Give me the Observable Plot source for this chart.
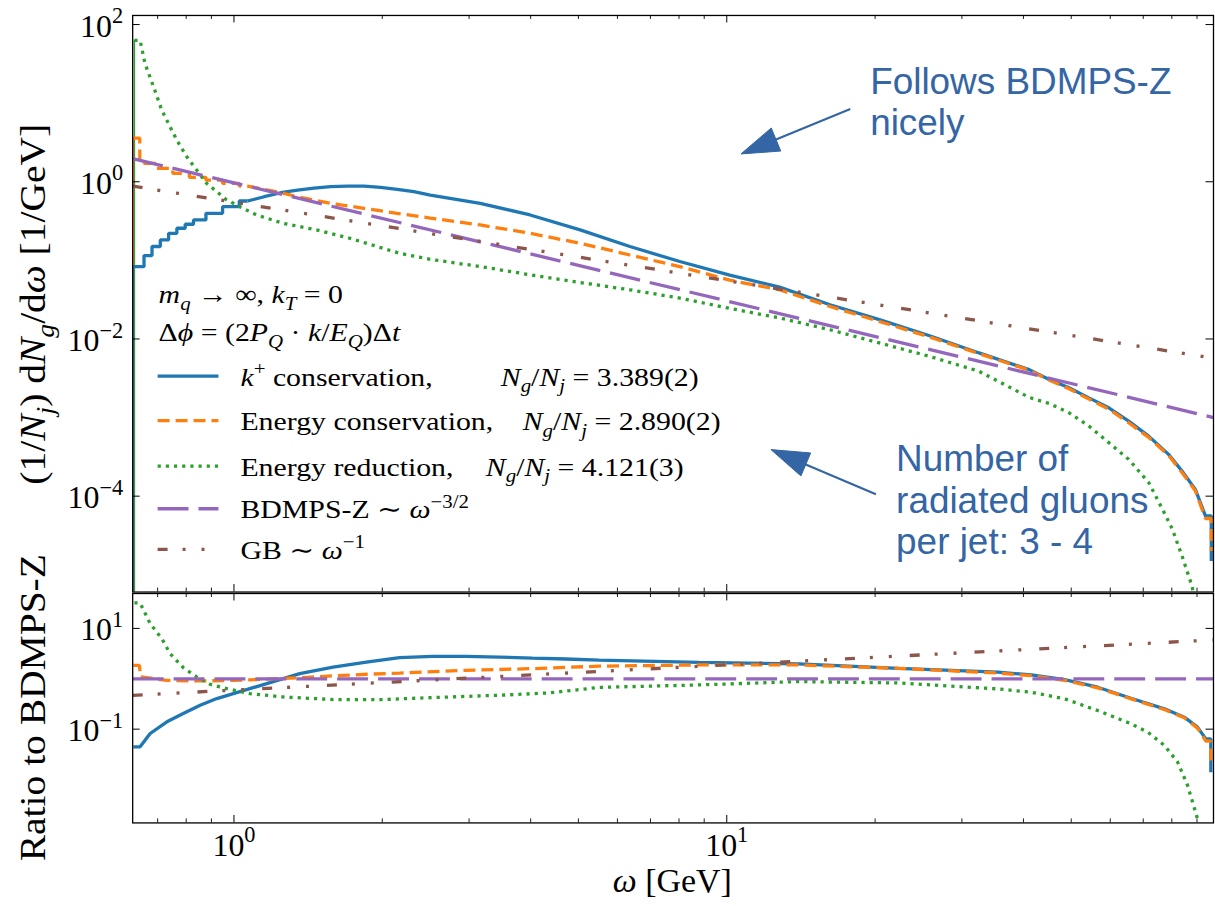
<!DOCTYPE html>
<html><head><meta charset="utf-8">
<script src="https://cdn.jsdelivr.net/npm/d3@7"></script>
<script src="https://cdn.jsdelivr.net/npm/@observablehq/plot@0.6"></script>
<style>
html,body{margin:0;padding:0;background:#fff;overflow:hidden;}
#wrap{position:relative;width:1215px;height:906px;overflow:hidden;background:#fff;}
#top,#bot{position:absolute;left:0;}
#top{top:0;}
#bot{top:592px;}
svg{overflow:visible;}
</style></head><body><div id="wrap"><div id="bot"></div><div id="top"></div></div>
<script>
// ---------------- data ----------------
const xDomain = [0.623, 97.2];
const yTopDomain = [6.03e-6, 130.5];
const yBotDomain = [1.377e-3, 49.3];

const xMajor = [1, 10];
const xMinor = [0.7, 0.8, 0.9, 2, 3, 4, 5, 6, 7, 8, 9, 20, 30, 40, 50, 60, 70, 80, 90];
const xTickLabels = ["10^0", "10^1"];
const yTopMajor = [1e2, 1, 1e-2, 1e-4];
const yTopLabels = ["10^2", "10^0", "10^\u22122", "10^\u22124"];
const yBotMajor = [10, 0.1];
const yBotLabels = ["10^1", "10^\u22121"];

// top panel: (1/N_j) dN_g/dω  [ω, value]
const kplusTop = [[0.625,0.083],[0.645,0.083],[0.669,0.115],[0.695,0.150],[0.723,0.182],[0.751,0.221],[0.781,0.256],[0.812,0.288],[0.844,0.327],[0.912,0.397],[0.986,0.482],[1.066,0.569],[1.152,0.645],[1.245,0.725],[1.346,0.785],[1.454,0.832],[1.571,0.865],[1.699,0.882],[1.836,0.882],[1.984,0.849],[2.144,0.801],[2.317,0.747],[2.504,0.678],[3.16,0.532],[3.99,0.378],[5.04,0.244],[6.36,0.150],[8.03,0.0966],[10.14,0.0650],[12.8,0.0457],[16.2,0.0272],[20.4,0.0176],[25.8,0.0110],[32.5,0.00664],[41.1,0.00407],[45.1,0.00305],[49.5,0.00239],[54.3,0.00178],[59.6,0.00133],[65.4,0.00090],[71.8,0.00058],[78.8,0.00034],[83.9,0.000209],[89.3,0.000122],[93.6,0.000056],[96.2,0.000056],[96.2,0.000015]];
const energyConsTop = [[0.625,3.6],[0.643,3.6],[0.645,1.88],[0.669,1.71],[0.723,1.48],[0.781,1.28],[0.844,1.14],[0.912,1.05],[0.986,0.955],[1.066,0.882],[1.152,0.80],[1.245,0.725],[1.346,0.645],[1.454,0.586],[1.571,0.532],[1.836,0.459],[2.144,0.397],[2.504,0.345],[3.16,0.282],[3.99,0.221],[5.04,0.165],[6.36,0.117],[8.03,0.0834],[10.14,0.0560],[12.8,0.0422],[16.2,0.0259],[20.4,0.0167],[25.8,0.0106],[32.5,0.0065],[41.1,0.0040],[45.1,0.0030],[49.5,0.00232],[54.3,0.00172],[59.6,0.00128],[65.4,0.00086],[71.8,0.00056],[78.8,0.00033],[83.9,0.000200],[89.3,0.000117],[93.6,0.000052],[96.2,0.000052],[96.2,0.000020]];
const energyRedTop = [[0.628,63],[0.645,63],[0.660,31.8],[0.687,16.1],[0.714,8.1],[0.742,4.99],[0.766,3.38],[0.802,2.08],[0.840,1.41],[0.880,0.955],[0.923,0.747],[0.967,0.586],[1.028,0.482],[1.111,0.378],[1.258,0.296],[1.470,0.244],[1.718,0.191],[2.168,0.123],[2.504,0.103],[3.16,0.0834],[3.99,0.0655],[5.04,0.0523],[6.36,0.0422],[8.03,0.0331],[10.14,0.0245],[12.8,0.0185],[16.2,0.0131],[20.4,0.0089],[25.8,0.0060],[32.5,0.00388],[41.1,0.00180],[45.1,0.00151],[49.5,0.00115],[54.3,0.00078],[59.6,0.00048],[65.4,0.000294],[71.8,0.000149],[76.6,0.000068],[80.2,0.000038],[83.9,0.0000174],[87.9,0.0000072],[89.5,0.000004]];
const bdmpsTop = [[0.623,1.97],[97.2,1.0e-3]];
const gbTop = [[0.623,0.88],[97.2,5.7e-3]];

// bottom panel: ratio to BDMPS-Z  [ω, ratio]
const kplusRatio = [[0.625,0.0446],[0.645,0.0446],[0.676,0.082],[0.731,0.140],[0.789,0.204],[0.854,0.299],[0.923,0.405],[0.997,0.508],[1.165,0.80],[1.360,1.27],[1.589,1.71],[1.856,2.15],[2.168,2.63],[2.532,2.79],[2.958,2.79],[3.455,2.70],[4.036,2.58],[4.716,2.47],[5.508,2.35],[8.78,2.12],[13.99,1.97],[22.3,1.61],[35.5,1.35],[41.5,1.19],[48.5,0.964],[56.6,0.68],[66.1,0.411],[77.3,0.253],[84.8,0.173],[90.2,0.110],[93.8,0.064],[96.0,0.064],[96.0,0.014]];
const energyConsRatio = [[0.625,1.85],[0.643,1.85],[0.646,1.09],[0.731,0.93],[0.854,0.906],[0.997,0.93],[1.165,0.98],[1.360,1.05],[1.589,1.14],[1.856,1.23],[2.168,1.30],[2.958,1.47],[4.036,1.59],[5.508,1.78],[8.78,1.88],[13.99,1.88],[22.3,1.61],[35.5,1.30],[41.5,1.15],[48.5,0.93],[56.6,0.66],[66.1,0.40],[77.3,0.245],[84.8,0.168],[90.2,0.105],[93.8,0.058],[96.0,0.058],[96.0,0.02]];
const energyRedRatio = [[0.628,32],[0.645,32],[0.676,12.4],[0.714,6.25],[0.742,3.16],[0.789,1.67],[0.840,1.09],[0.894,0.778],[0.967,0.638],[1.077,0.508],[1.258,0.436],[1.589,0.387],[2.005,0.387],[2.532,0.424],[3.455,0.471],[4.363,0.524],[5.508,0.675],[8.78,0.755],[13.99,0.88],[22.3,0.826],[35.5,0.63],[41.5,0.54],[48.5,0.40],[56.6,0.234],[66.1,0.128],[71.5,0.087],[77.3,0.0475],[82.2,0.0222],[86.1,0.0077],[90.2,0.00167],[91.0,0.001]];
const bdmpsRatio = [[0.623,1],[97.2,1]];
const gbRatio = [[0.623,0.47],[97.2,5.9]];

// styles
const C = {kplus:"#1f77b4", econs:"#ff7f0e", ered:"#2ca02c", bdmps:"#9467bd", gb:"#8c564b"};
const DASH = {kplus:null, econs:"12,6", ered:"3.2,5", bdmps:"31,10", gb:"10,15,3,16,3,18"};
const LW = 3.3;
const SERIF = "'Liberation Serif','DejaVu Serif',serif";
const SANS = "'Liberation Sans',Arial,sans-serif";
const ANN = "#3465a4";

const rows = a => a.map(([x, y]) => ({x, y}));
const lineOpts = (key, curve) => ({
  x: "x", y: "y", stroke: C[key], strokeWidth: LW, strokeDasharray: DASH[key],
  strokeLinecap: "butt", strokeLinejoin: "miter", clip: true, curve
});
function seriesMark(data, key) { return Plot.line(rows(data), lineOpts(key, "linear")); }
// histogram outline: staircase at the low-ω end where the bins are visible
function histMarks(data, key, lo = 1.1) {
  let i1 = 0; while (i1 + 1 < data.length && data[i1 + 1][0] <= lo) i1++;
  return [
    Plot.line(rows(data.slice(0, i1 + 1)), lineOpts(key, "step")),
    Plot.line(rows(data.slice(i1)), lineOpts(key, "linear"))
  ];
}
function tickMarks(H, W, yMajor) {
  return [
    Plot.ruleX(xMajor, {insetTop: H - 7.5, stroke: "#000", strokeWidth: 1}),
    Plot.ruleX(xMajor, {insetBottom: H - 7.5, stroke: "#000", strokeWidth: 1}),
    Plot.ruleX(xMinor, {insetTop: H - 4, stroke: "#000", strokeWidth: 0.9}),
    Plot.ruleX(xMinor, {insetBottom: H - 4, stroke: "#000", strokeWidth: 0.9}),
    Plot.ruleY(yMajor, {insetRight: W - 7.5, stroke: "#000", strokeWidth: 1}),
    Plot.ruleY(yMajor, {insetLeft: W - 7.5, stroke: "#000", strokeWidth: 1}),
    Plot.frame({stroke: "#000", strokeWidth: 1.3})
  ];
}
const W = 1216 - 132.5;
const edgeRule = (data, key) => Plot.ruleX([data[0]], {x: d => d[0], y1: yTopDomain[0], y2: d => d[1], stroke: C[key], strokeWidth: 1.5});

// ---------------- top panel ----------------
const H1 = 593 - 15;
const topPlot = Plot.plot({
  width: 1218, height: 593, marginLeft: 132.5, marginRight: 2, marginTop: 15, marginBottom: 0,
  x: {type: "log", domain: xDomain, axis: null},
  y: {type: "log", domain: yTopDomain, axis: null},
  style: {fontFamily: SERIF, fontSize: "32px", background: "transparent", overflow: "visible"},
  marks: [
    edgeRule(energyRedTop, "ered"),
    edgeRule(energyConsTop, "econs"),
    edgeRule(kplusTop, "kplus"),
    ...histMarks(kplusTop, "kplus"),
    ...histMarks(energyConsTop, "econs"),
    seriesMark(energyRedTop, "ered"),
    seriesMark(bdmpsTop, "bdmps"),
    seriesMark(gbTop, "gb"),
    ...tickMarks(H1, W, yTopMajor),
    Plot.text(yTopMajor, {y: d => d, text: (d, i) => yTopLabels[i], frameAnchor: "left", textAnchor: "end", lineAnchor: "bottom", dx: -9.5, dy: 12, fontSize: 32}),
    Plot.text([{x: 19.54, y: 30.5}], {x: "x", y: "y", text: () => "Follows BDMPS-Z\nnicely", textAnchor: "start", lineAnchor: "top", fontFamily: SANS, fontSize: 37, fill: ANN, lineHeight: 1.1}),
    Plot.text([{x: 22.06, y: 4.87e-4}], {x: "x", y: "y", text: () => "Number of\nradiated gluons\nper jet: 3 - 4", textAnchor: "start", lineAnchor: "top", fontFamily: SANS, fontSize: 37, fill: ANN, lineHeight: 1.12})
  ]
});
document.getElementById("top").appendChild(topPlot);

// ---------------- bottom panel ----------------
const H2 = 231 - 1;
const botPlot = Plot.plot({
  width: 1218, height: 314, marginLeft: 132.5, marginRight: 2, marginTop: 1, marginBottom: 83,
  x: {type: "log", domain: xDomain, axis: null},
  y: {type: "log", domain: yBotDomain, axis: null},
  style: {fontFamily: SERIF, fontSize: "32px", background: "transparent", overflow: "visible"},
  marks: [
    seriesMark(kplusRatio, "kplus"),
    seriesMark(energyConsRatio, "econs"),
    seriesMark(energyRedRatio, "ered"),
    seriesMark(bdmpsRatio, "bdmps"),
    seriesMark(gbRatio, "gb"),
    ...tickMarks(H2, W, yBotMajor),
    Plot.text(yBotMajor, {y: d => d, text: (d, i) => yBotLabels[i], frameAnchor: "left", textAnchor: "end", lineAnchor: "bottom", dx: -9.5, dy: 12, fontSize: 32}),
    Plot.text(xMajor, {x: d => d, text: (d, i) => xTickLabels[i], frameAnchor: "bottom", textAnchor: "middle", lineAnchor: "bottom", dy: 33, fontSize: 32})
  ]
});
document.getElementById("bot").appendChild(botPlot);

// superscripts on tick labels
for (const svg of [topPlot, botPlot]) {
  d3.select(svg).selectAll("text").each(function () {
    const s = this.textContent;
    if (!s.includes("^")) return;
    const [base, exp] = s.split("^");
    const t = d3.select(this);
    t.text(null);
    t.append("tspan").text(base);
    t.append("tspan").text(exp).attr("font-size", "0.7em").attr("dy", "-0.6em");
  });
}

// rich text helper
function rich(sel, x, y, parts, size, opts = {}) {
  const sx = opts.sx || 1;
  const t = sel.append("text").attr("font-size", size).attr("font-family", SERIF).attr("fill", "#000")
    .attr("text-anchor", opts.anchor || "start").style("white-space", "pre")
    .attr("transform", `translate(${x},${y})${opts.rotate ? " rotate(-90)" : ""} scale(${sx},1)`);
  let shift = 0;
  for (const p of parts) {
    const s = typeof p === "string" ? {t: p} : p;
    let target = 0, fs = size;
    if (s.sub) { target = size * 0.25; fs = size * 0.7; }
    if (s.sup) { target = -size * 0.4; fs = size * 0.7; }
    const ts = t.append("tspan").text(s.t).attr("font-size", fs);
    if (target !== shift) { ts.attr("dy", target - shift); shift = target; }
    if (s.i) ts.attr("font-style", "italic");
  }
  return t;
}

// axis labels
const gt = d3.select(topPlot), gb = d3.select(botPlot);
rich(gt, 45, 305, ["(1/", {t:"N", i:1}, {t:"j", i:1, sub:1}, ") d", {t:"N", i:1}, {t:"g", i:1, sub:1}, "/d", {t:"\u03C9", i:1}, " [1/GeV]"], 36, {rotate: 1, anchor: "middle", sx: 1.1});
rich(gb, 45, 116, ["Ratio to BDMPS-Z"], 36, {rotate: 1, anchor: "middle", sx: 1.1});
rich(gb, 674, 301, [{t:"\u03C9", i:1}, " [GeV]"], 34, {anchor: "middle"});

// legend
const LS = 26, LSX = 1.15;
rich(gt, 159, 304, [{t:"m", i:1}, {t:"q", i:1, sub:1}, " \u2192 \u221E, ", {t:"k", i:1}, {t:"T", i:1, sub:1}, " = 0"], LS, {sx: LSX});
rich(gt, 159, 342, ["\u0394", {t:"\u03D5", i:1}, " = (2", {t:"P", i:1}, {t:"Q", i:1, sub:1}, " \u00B7 ", {t:"k", i:1}, "/", {t:"E", i:1}, {t:"Q", i:1, sub:1}, ")\u0394", {t:"t", i:1}], LS, {sx: LSX});
const NgNj = v => [{t:"N", i:1}, {t:"g", i:1, sub:1}, "/", {t:"N", i:1}, {t:"j", i:1, sub:1}, " = " + v];
const legendRows = [
  {key:"kplus", y:377, text:[{t:"k", i:1}, {t:"+", sup:1}, " conservation,"], nx:502, n:"3.389(2)"},
  {key:"econs", y:421.7, text:["Energy conservation,"], nx:524, n:"2.890(2)"},
  {key:"ered", y:467.3, text:["Energy reduction,"], nx:487, n:"4.121(3)"},
  {key:"bdmps", y:510, text:["BDMPS-Z \u223C ", {t:"\u03C9", i:1}, {t:"\u22123/2", sup:1}]},
  {key:"gb", y:550.7, text:["GB \u223C ", {t:"\u03C9", i:1}, {t:"\u22121", sup:1}]}
];
for (const r of legendRows) {
  gt.append("line").attr("x1", 158).attr("x2", 219).attr("y1", r.y).attr("y2", r.y)
    .attr("stroke", C[r.key]).attr("stroke-width", LW).attr("stroke-dasharray", DASH[r.key]);
  rich(gt, 241, r.y + 9.5, r.text, LS, {sx: LSX});
  if (r.n) rich(gt, r.nx, r.y + 9.5, NgNj(r.n), LS, {sx: LSX});
}

// annotation arrows (positions via the plot's scales)
const sxs = topPlot.scale("x"), sys = topPlot.scale("y");
function arrow(from, to) {
  const x1 = sxs.apply(from[0]), y1 = sys.apply(from[1]), x2 = sxs.apply(to[0]), y2 = sys.apply(to[1]);
  const dx = x2 - x1, dy = y2 - y1, L = Math.hypot(dx, dy), ux = dx / L, uy = dy / L;
  const hl = 38, hw = 12.5;
  const bx = x2 - ux * hl, by = y2 - uy * hl;
  gt.append("line").attr("x1", x1).attr("y1", y1).attr("x2", bx + ux * 2).attr("y2", by + uy * 2)
    .attr("stroke", ANN).attr("stroke-width", 2.2);
  gt.append("polygon").attr("points", `${x2},${y2} ${bx - uy * hw},${by + ux * hw} ${bx + uy * hw},${by - ux * hw}`)
    .attr("fill", ANN).attr("stroke", ANN).attr("stroke-width", 1);
}
arrow([17.85, 8.30], [10.71, 2.227]);
arrow([20.12, 1.042e-4], [12.32, 3.855e-4]);
</script></body></html>
